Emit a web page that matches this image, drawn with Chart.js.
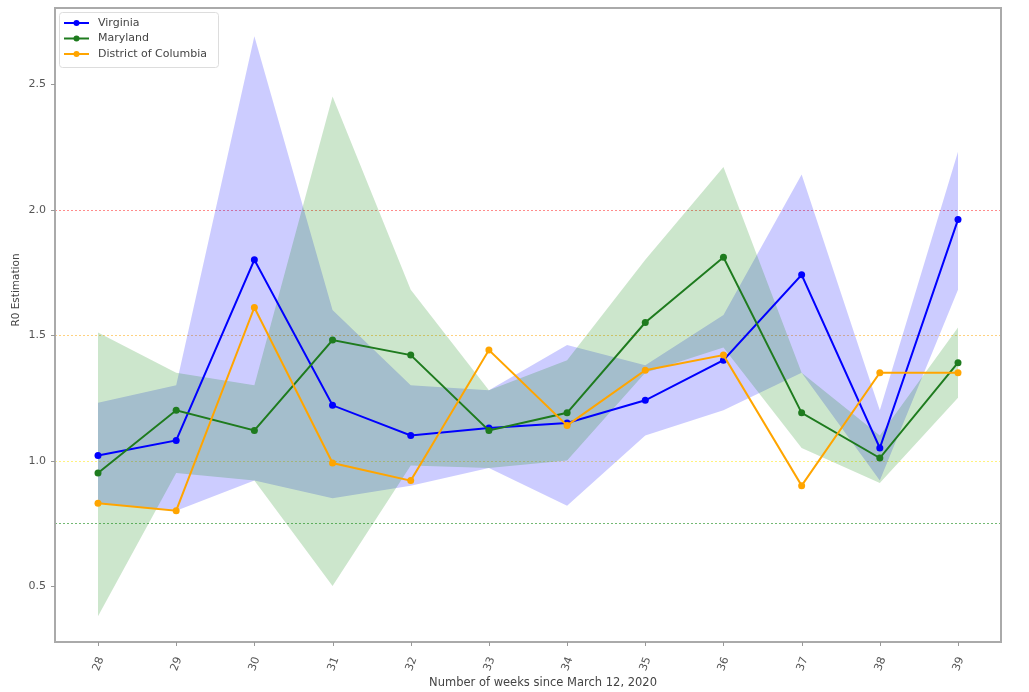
<!DOCTYPE html>
<html>
<head>
<meta charset="utf-8">
<script src="https://cdn.jsdelivr.net/npm/chart.js@4.4.0/dist/chart.umd.min.js"></script>
<style>
  html, body { margin: 0; padding: 0; background: #fff; }
  #wrap { position: relative; width: 1029px; height: 692px; }
</style>
</head>
<body>
<div id="wrap"><canvas id="chart-r0"></canvas></div>
<script>
// week labels along the x axis
var weeks = ["28", "29", "30", "31", "32", "33", "34", "35", "36", "37", "38", "39"];
var y_ticks = [0.5, 1.0, 1.5, 2.0, 2.5];

var virginia = [1.02, 1.08, 1.80, 1.22, 1.10, 1.13, 1.15, 1.24, 1.40, 1.74, 1.05, 1.96];
var maryland = [0.95, 1.20, 1.12, 1.48, 1.42, 1.12, 1.19, 1.55, 1.81, 1.19, 1.01, 1.39];
var dc = [0.83, 0.80, 1.61, 0.99, 0.92, 1.44, 1.14, 1.36, 1.42, 0.90, 1.35, 1.35];

// confidence bands
var virginia_low = [0.83, 0.80, 0.92, 0.85, 0.90, 0.97, 0.82, 1.10, 1.20, 1.35, 0.92, 1.68];
var virginia_high = [1.23, 1.30, 2.69, 1.60, 1.30, 1.28, 1.46, 1.38, 1.58, 2.14, 1.20, 2.23];
var maryland_low = [0.38, 0.95, 0.92, 0.50, 0.98, 0.97, 1.00, 1.35, 1.45, 1.05, 0.91, 1.25];
var maryland_high = [1.51, 1.35, 1.30, 2.45, 1.68, 1.28, 1.40, 1.80, 2.17, 1.35, 1.10, 1.53];

// horizontal reference levels
var ref_levels = [2.0, 1.5, 1.0, 0.75];
var ref_colors = ["rgba(255,0,0,0.45)", "rgba(255,165,0,0.5)", "rgba(255,230,0,0.5)", "rgba(0,128,0,0.55)"];

var FONT = "'DejaVu Sans', sans-serif";

function pts(arr) {
    var out = [];
    for (let i = 0; i < arr.length; i++) {
        out.push({ x: i, y: arr[i] });
    }
    return out;
}

function band(arr, order) {
    return {
        data: pts(arr),
        borderWidth: 0,
        pointRadius: 0,
        tension: 0,
        fill: false,
        isBand: true,
        order: order,
    };
}

function line(label, arr, color, order) {
    return {
        label: label,
        data: pts(arr),
        borderColor: color,
        backgroundColor: color,
        borderWidth: 2,
        pointRadius: 3.5,
        pointBackgroundColor: color,
        pointBorderWidth: 0,
        tension: 0,
        fill: false,
        order: order,
    };
}

var vaHigh = band(virginia_high, 6);
vaHigh.fill = "-1";
vaHigh.backgroundColor = "rgba(0,0,255,0.2)";
var mdHigh = band(maryland_high, 4);
mdHigh.fill = "-1";
mdHigh.backgroundColor = "rgba(0,128,0,0.2)";

// reference lines, spines, ticks, titles and legend
var extras = {
    id: "extras",
    beforeDatasetsDraw(chart) {
        const c = chart.ctx, a = chart.chartArea, y = chart.scales.y;
        c.save();
        c.lineWidth = 1;
        for (let i = 0; i < ref_levels.length; i++) {
            const py = Math.round(y.getPixelForValue(ref_levels[i])) + 0.5;
            c.strokeStyle = ref_colors[i];
            c.setLineDash([2, 2]);
            c.beginPath();
            c.moveTo(a.left, py);
            c.lineTo(a.right, py);
            c.stroke();
        }
        c.restore();
    },
    afterDraw(chart) {
        const c = chart.ctx, a = chart.chartArea, xs = chart.scales.x, ys = chart.scales.y;
        c.save();
        c.strokeStyle = "#aaaaaa";
        c.lineWidth = 2;
        c.strokeRect(a.left, a.top, a.right - a.left, a.bottom - a.top);

        // ticks and tick labels
        c.strokeStyle = "#999";
        c.lineWidth = 1;
        c.fillStyle = "#555";
        c.font = "11px " + FONT;
        c.textAlign = "right";
        c.textBaseline = "middle";
        for (let i = 0; i < y_ticks.length; i++) {
            const py = Math.round(ys.getPixelForValue(y_ticks[i])) + 0.5;
            c.beginPath();
            c.moveTo(a.left - 4, py);
            c.lineTo(a.left, py);
            c.stroke();
            c.fillText(y_ticks[i].toFixed(1), a.left - 9, py);
        }
        c.textAlign = "center";
        for (let i = 0; i < weeks.length; i++) {
            const px = Math.round(xs.getPixelForValue(i)) + 0.5;
            c.beginPath();
            c.moveTo(px, a.bottom);
            c.lineTo(px, a.bottom + 4);
            c.stroke();
            c.save();
            c.translate(px, a.bottom + 22);
            c.rotate(-70 * Math.PI / 180);
            c.fillText(weeks[i], 0, 0);
            c.restore();
        }

        // axis titles
        c.fillStyle = "#444";
        c.font = "11.5px " + FONT;
        c.fillText("Number of weeks since March 12, 2020", 543, 683);
        c.save();
        c.translate(16, 290);
        c.rotate(-Math.PI / 2);
        c.font = "10.5px " + FONT;
        c.fillText("R0 Estimation", 0, 0);
        c.restore();

        // legend
        const lines = chart.data.datasets.filter(d => !d.isBand);
        const lx = a.left + 4, ly = a.top + 4;
        c.fillStyle = "rgba(255,255,255,0.85)";
        c.strokeStyle = "#dddddd";
        c.lineWidth = 1;
        c.beginPath();
        c.roundRect(lx + 0.5, ly + 0.5, 159, 55, 3);
        c.fill();
        c.stroke();
        c.font = "11px " + FONT;
        c.textAlign = "left";
        c.textBaseline = "middle";
        for (let i = 0; i < lines.length; i++) {
            const yy = ly + 11 + i * 15.5;
            c.strokeStyle = lines[i].borderColor;
            c.fillStyle = lines[i].borderColor;
            c.lineWidth = 2;
            c.beginPath();
            c.moveTo(lx + 5, yy);
            c.lineTo(lx + 30, yy);
            c.stroke();
            c.beginPath();
            c.arc(lx + 17.5, yy, 3, 0, Math.PI * 2);
            c.fill();
            c.fillStyle = "#444";
            c.fillText(lines[i].label, lx + 39, yy);
        }
        c.restore();
    }
};

const ctx = document.getElementById("chart-r0").getContext("2d");
const myChart = new Chart(ctx, {
    type: "line",
    data: {
        datasets: [
            band(virginia_low, 6), vaHigh,
            band(maryland_low, 4), mdHigh,
            line("Virginia", virginia, "#0000ff", 2),
            line("Maryland", maryland, "#1e7b1e", 1),
            line("District of Columbia", dc, "#ffa500", 0),
        ],
    },
    options: {
        responsive: true,
        maintainAspectRatio: false,
        animation: false,
        layout: {
            padding: { top: 8, right: 28, left: 0, bottom: 0 },
        },
        plugins: {
            legend: { display: false },
            tooltip: { enabled: false },
        },
        scales: {
            x: {
                type: "linear",
                min: -0.55,
                max: 11.55,
                afterBuildTicks: (axis) => {
                    axis.ticks = weeks.map((w, i) => ({ value: i }));
                },
                afterFit: (axis) => { axis.height = 50; },
                grid: { display: false },
                border: { display: false },
                ticks: { display: false },
            },
            y: {
                min: 0.277,
                max: 2.803,
                afterBuildTicks: (axis) => {
                    axis.ticks = y_ticks.map(v => ({ value: v }));
                },
                afterFit: (axis) => { axis.width = 55; },
                grid: { display: false },
                border: { display: false },
                ticks: { display: false },
            },
        },
    },
    plugins: [extras],
});
</script>
</body>
</html>
